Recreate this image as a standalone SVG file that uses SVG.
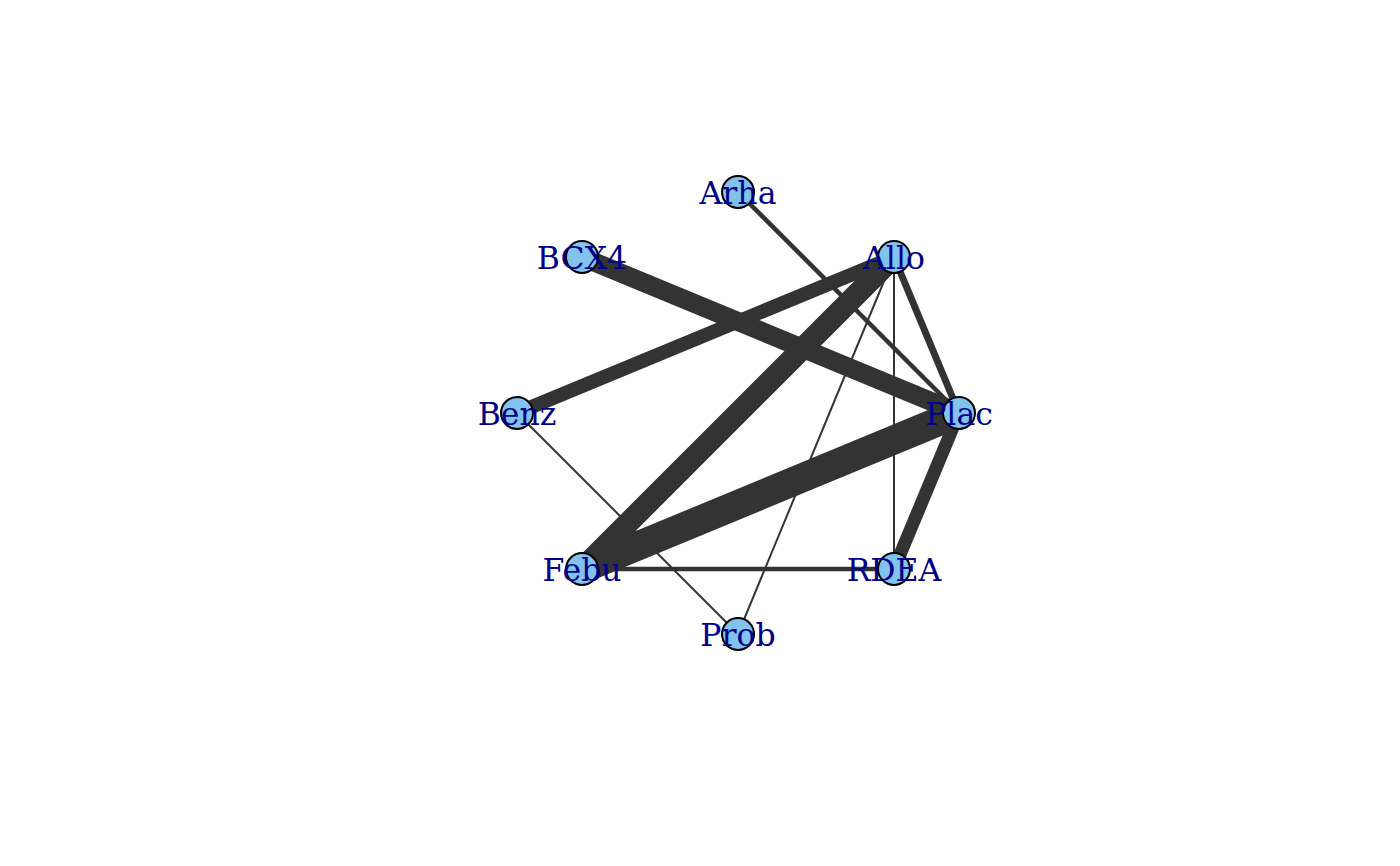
<svg xmlns="http://www.w3.org/2000/svg" width="1400" height="866" viewBox="0 0 1400 866">
<style>
.e{stroke:#333333;stroke-linecap:butt;fill:none}
.n circle{fill:#82C3EE;stroke:#000000;stroke-width:2}
.n text{font-family:"DejaVu Serif","Liberation Serif",serif;font-size:31.5px;fill:#00008B;text-anchor:middle}
</style>
<rect width="1400" height="866" fill="#ffffff"/>
<g id="connectors">
<line class="e" x1="738" y1="192" x2="959" y2="413" stroke-width="4.5"/>
<line class="e" x1="582" y1="257" x2="959" y2="413" stroke-width="19"/>
<line class="e" x1="894" y1="257" x2="517" y2="413" stroke-width="14"/>
<line class="e" x1="894" y1="257" x2="582" y2="569" stroke-width="22"/>
<line class="e" x1="894" y1="257" x2="959" y2="413" stroke-width="7"/>
<line class="e" x1="894" y1="257" x2="738" y2="634" stroke-width="2"/>
<line class="e" x1="894" y1="257" x2="894" y2="569" stroke-width="2"/>
<line class="e" x1="959" y1="413" x2="582" y2="569" stroke-width="29"/>
<line class="e" x1="959" y1="413" x2="894" y2="569" stroke-width="13"/>
<line class="e" x1="582" y1="569" x2="894" y2="569" stroke-width="4.5"/>
<line class="e" x1="517" y1="413" x2="738" y2="634" stroke-width="2"/>
</g>
<g id="node-Arha" class="n"><circle cx="738" cy="192" r="16"/><text x="738" y="204">Arha</text></g>
<g id="node-Allo" class="n"><circle cx="894" cy="257" r="16"/><text x="894" y="269">Allo</text></g>
<g id="node-BCX4" class="n"><circle cx="582" cy="257" r="16"/><text x="582" y="269">BCX4</text></g>
<g id="node-Benz" class="n"><circle cx="517" cy="413" r="16"/><text x="517" y="425">Benz</text></g>
<g id="node-Plac" class="n"><circle cx="959" cy="413" r="16"/><text x="959" y="425">Plac</text></g>
<g id="node-Febu" class="n"><circle cx="582" cy="569" r="16"/><text x="582" y="581">Febu</text></g>
<g id="node-RDEA" class="n"><circle cx="894" cy="569" r="16"/><text x="894" y="581">RDEA</text></g>
<g id="node-Prob" class="n"><circle cx="738" cy="634" r="16"/><text x="738" y="646">Prob</text></g>
</svg>
